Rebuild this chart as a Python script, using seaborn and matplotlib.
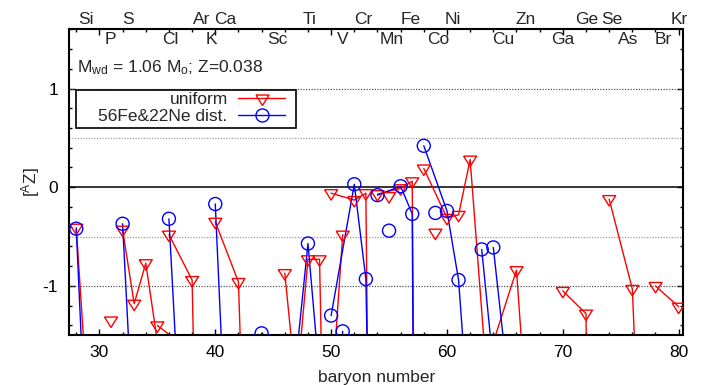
import numpy as np
import pandas as pd
import matplotlib
matplotlib.use("Agg")
import matplotlib.pyplot as plt
import seaborn as sns
from matplotlib.lines import Line2D
from matplotlib.patches import Rectangle
from matplotlib.ticker import MultipleLocator

# ---------------- data ----------------
# "uniform" model (red triangles); isotopes grouped per element
uni_el = ["Si", "Si", "P", "S", "S", "S", "S", "Cl", "Cl", "Ar", "Ar", "Ar",
          "Ca", "Ca", "Ca", "Ti", "Ti", "Ti", "Ti", "Ti", "V", "V",
          "Cr", "Cr", "Cr", "Cr", "Mn", "Fe", "Fe", "Fe", "Fe", "Co",
          "Ni", "Ni", "Ni", "Ni", "Ni", "Zn", "Zn", "Zn", "Ge", "Ge", "Ge",
          "Se", "Se", "Se", "Kr", "Kr"]
uni_A = [28, 29, 31, 32, 33, 34, 36, 35, 37, 36, 38, 40,
         40, 42, 43, 46, 47, 48, 49, 50, 50, 51,
         50, 52, 53, 54, 55, 54, 56, 57, 58, 59,
         58, 60, 61, 62, 64, 64, 66, 67, 70, 72, 73,
         74, 76, 77, 78, 80]
uni_val = [-0.41, -2.2, -1.35, -0.43, -1.18, -0.77, -2.35, -1.40, -1.58, -0.48, -0.94, -12.0,
           -0.35, -0.96, -4.6, -0.87, -2.05, -0.73, -0.73, -6.5, -2.2, -0.48,
           -0.06, -0.13, -0.06, -12.0, -0.09, -0.07, -0.01, 0.06, -15.0, -0.46,
           0.19, -0.31, -0.28, 0.28, -2.79, -1.57, -0.84, -2.5, -1.05, -1.28, -12.0,
           -0.12, -1.03, -3.8, -1.00, -1.21]

# "56Fe&22Ne dist." model (blue circles)
dist_el = ["Si", "Si", "S", "S", "Ar", "Ar", "Ca", "Ca", "Ca", "Ca",
           "Ti", "Ti", "Ti", "V", "V", "Cr", "Cr", "Cr", "Cr", "Mn",
           "Fe", "Fe", "Fe", "Fe", "Co", "Ni", "Ni", "Ni", "Ni",
           "Cu", "Cu", "Zn", "Zn"]
dist_A = [28, 29, 32, 33, 36, 38, 40, 42, 43, 44,
          47, 48, 49, 50, 51, 50, 52, 53, 54, 55,
          54, 56, 57, 58, 59, 58, 60, 61, 62,
          63, 65, 64, 66]
dist_val = [-0.42, -3.0, -0.37, -2.64, -0.32, -4.7, -0.17, -5.4, -6.0, -1.48,
            -1.72, -0.57, -1.92, -3.0, -1.46, -1.30, 0.03, -0.93, -7.3, -0.44,
            -0.08, 0.01, -0.27, -20.0, -0.26, 0.42, -0.24, -0.94, -2.54,
            -0.63, -2.98, -0.61, -2.75]

# element labels along the top
top_row_el = ["Si", "S", "Ar", "Ca", "Ti", "Cr", "Fe", "Ni", "Zn", "Ge", "Se", "Kr"]
top_row_x = [28.83, 32.50, 38.84, 40.85, 48.11, 52.77, 56.90, 60.54, 66.83, 72.03, 74.27, 80.06]
low_row_el = ["P", "Cl", "K", "Sc", "V", "Mn", "Co", "Cu", "Ga", "As", "Br"]
low_row_x = [30.92, 36.15, 39.65, 45.35, 50.96, 55.19, 59.25, 64.86, 69.96, 75.61, 78.64]

series_labels = ["uniform", "56Fe&22Ne dist."]
x_ticks = [30, 40, 50, 60, 70, 80]
y_ticks = [-1, 0, 1]

# ---------------- style ----------------
sns.set_style("ticks")
plt.rcParams["font.family"] = ["Liberation Sans", "DejaVu Sans"]
plt.rcParams["mathtext.fontset"] = "custom"
plt.rcParams["mathtext.rm"] = "Liberation Sans"
plt.rcParams["mathtext.it"] = "Liberation Sans:italic"
FS = 12.5

df_u = pd.DataFrame({"el": uni_el, "A": uni_A, "val": uni_val})
df_d = pd.DataFrame({"el": dist_el, "A": dist_A, "val": dist_val})

XMIN, XMAX = 27.4, 80.4
YMIN, YMAX = -1.5, 1.6

W, H = 703, 385
fig = plt.figure(figsize=(W / 100, H / 100), dpi=100)
ax_l, ax_r, ax_t, ax_b = 69.3, 683.3, 29.3, 335.3
ax = fig.add_axes([ax_l / W, (H - ax_b) / H, (ax_r - ax_l) / W, (ax_b - ax_t) / H])

# grid lines & zero line
for yv, c in [(1, "#555555"), (0.5, "#9a9a9a"), (-0.5, "#9a9a9a"), (-1, "#555555")]:
    ax.axhline(yv, color=c, lw=0.9, ls=(0, (1, 1.2)), zorder=1)
ax.axhline(0, color="black", lw=1.1, zorder=1)

tri = [(-1.0, 0.533), (1.0, 0.533), (0.0, -1.067), (-1.0, 0.533)]

# lines (connect isotopes of the same element)
sns.lineplot(data=df_u, x="A", y="val", units="el", estimator=None, color="red",
             lw=1.0, ax=ax, legend=False, zorder=2)
sns.lineplot(data=df_d, x="A", y="val", units="el", estimator=None, color="blue",
             lw=1.0, ax=ax, legend=False, zorder=2)

# markers (only points within the plotted range are drawn, as in the original)
vis_u = df_u[(df_u["val"] >= YMIN) & (df_u["val"] <= YMAX)]
vis_d = df_d[(df_d["val"] >= YMIN) & (df_d["val"] <= YMAX)]
sns.scatterplot(data=vis_u, x="A", y="val", marker=tri, s=100, facecolors="none",
                edgecolors="red", linewidths=1.0, ax=ax, legend=False, zorder=3)
sns.scatterplot(data=vis_d, x="A", y="val", marker="o", s=88, facecolors="none",
                edgecolors="blue", linewidths=1.0, ax=ax, legend=False, zorder=3)

ax.set_xlim(XMIN, XMAX)
ax.set_ylim(YMIN, YMAX)

# axes / ticks
for s in ax.spines.values():
    s.set_linewidth(1.5)
    s.set_color("black")
ax.set_xticks(x_ticks)
ax.set_xticklabels([str(v) for v in x_ticks])
ax.set_yticks(y_ticks)
ax.set_yticklabels([str(v) for v in y_ticks])
ax.xaxis.set_minor_locator(MultipleLocator(2))
ax.yaxis.set_minor_locator(MultipleLocator(0.2))
ax.tick_params(which="both", direction="in", top=True, right=True, width=1.0,
               labelsize=FS, colors="black")
ax.tick_params(which="major", length=4)
ax.tick_params(which="minor", length=2.5)
ax.tick_params(axis="x", which="major", pad=7)
ax.tick_params(axis="y", which="major", pad=8)

ax.set_xlabel("baryon number", fontsize=FS)
ax.set_ylabel(r"[$^{\rm A}$Z]", fontsize=FS)
ax.xaxis.set_label_coords(0.5, -0.112)
ax.yaxis.set_label_coords(-0.045, 0.5)

# element labels
trans = ax.get_xaxis_transform()
for el, xv in zip(top_row_el, top_row_x):
    ax.text(xv, 1.031, el, transform=trans, ha="center", va="center", fontsize=FS,
            clip_on=False)
for el, xv in zip(low_row_el, low_row_x):
    ax.text(xv, 0.966, el, transform=trans, ha="center", va="center", fontsize=FS)

# annotation
ax.text(0.012, 0.874, r"M$_{\rm wd}$ = 1.06 M$_{\rm o}$; Z=0.038", transform=ax.transAxes,
        ha="left", va="center", fontsize=FS)

# legend (frame drawn as a patch, entries right-aligned like gnuplot)
axw, axh = ax_r - ax_l, ax_b - ax_t
ax.add_patch(Rectangle(((76 - ax_l) / axw, (ax_b - 128) / axh), 220 / axw, 38 / axh,
                       transform=ax.transAxes, facecolor="white", edgecolor="black",
                       lw=1.2, zorder=4))
handles = [
    Line2D([], [], color="red", lw=1.0, marker=tri, ms=10, mfc="none", mec="red", mew=1.0),
    Line2D([], [], color="blue", lw=1.0, marker="o", ms=9.4, mfc="none", mec="blue", mew=1.0),
]
leg = ax.legend(handles, series_labels, loc="upper right",
                bbox_to_anchor=((285 - ax_l) / axw, (ax_b - 92) / axh),
                markerfirst=False, frameon=False, borderaxespad=0, borderpad=0,
                handlelength=2.7, handletextpad=0.6, labelspacing=0.12, fontsize=FS)
leg.set_zorder(5)

fig.savefig("out.png", dpi=100)
